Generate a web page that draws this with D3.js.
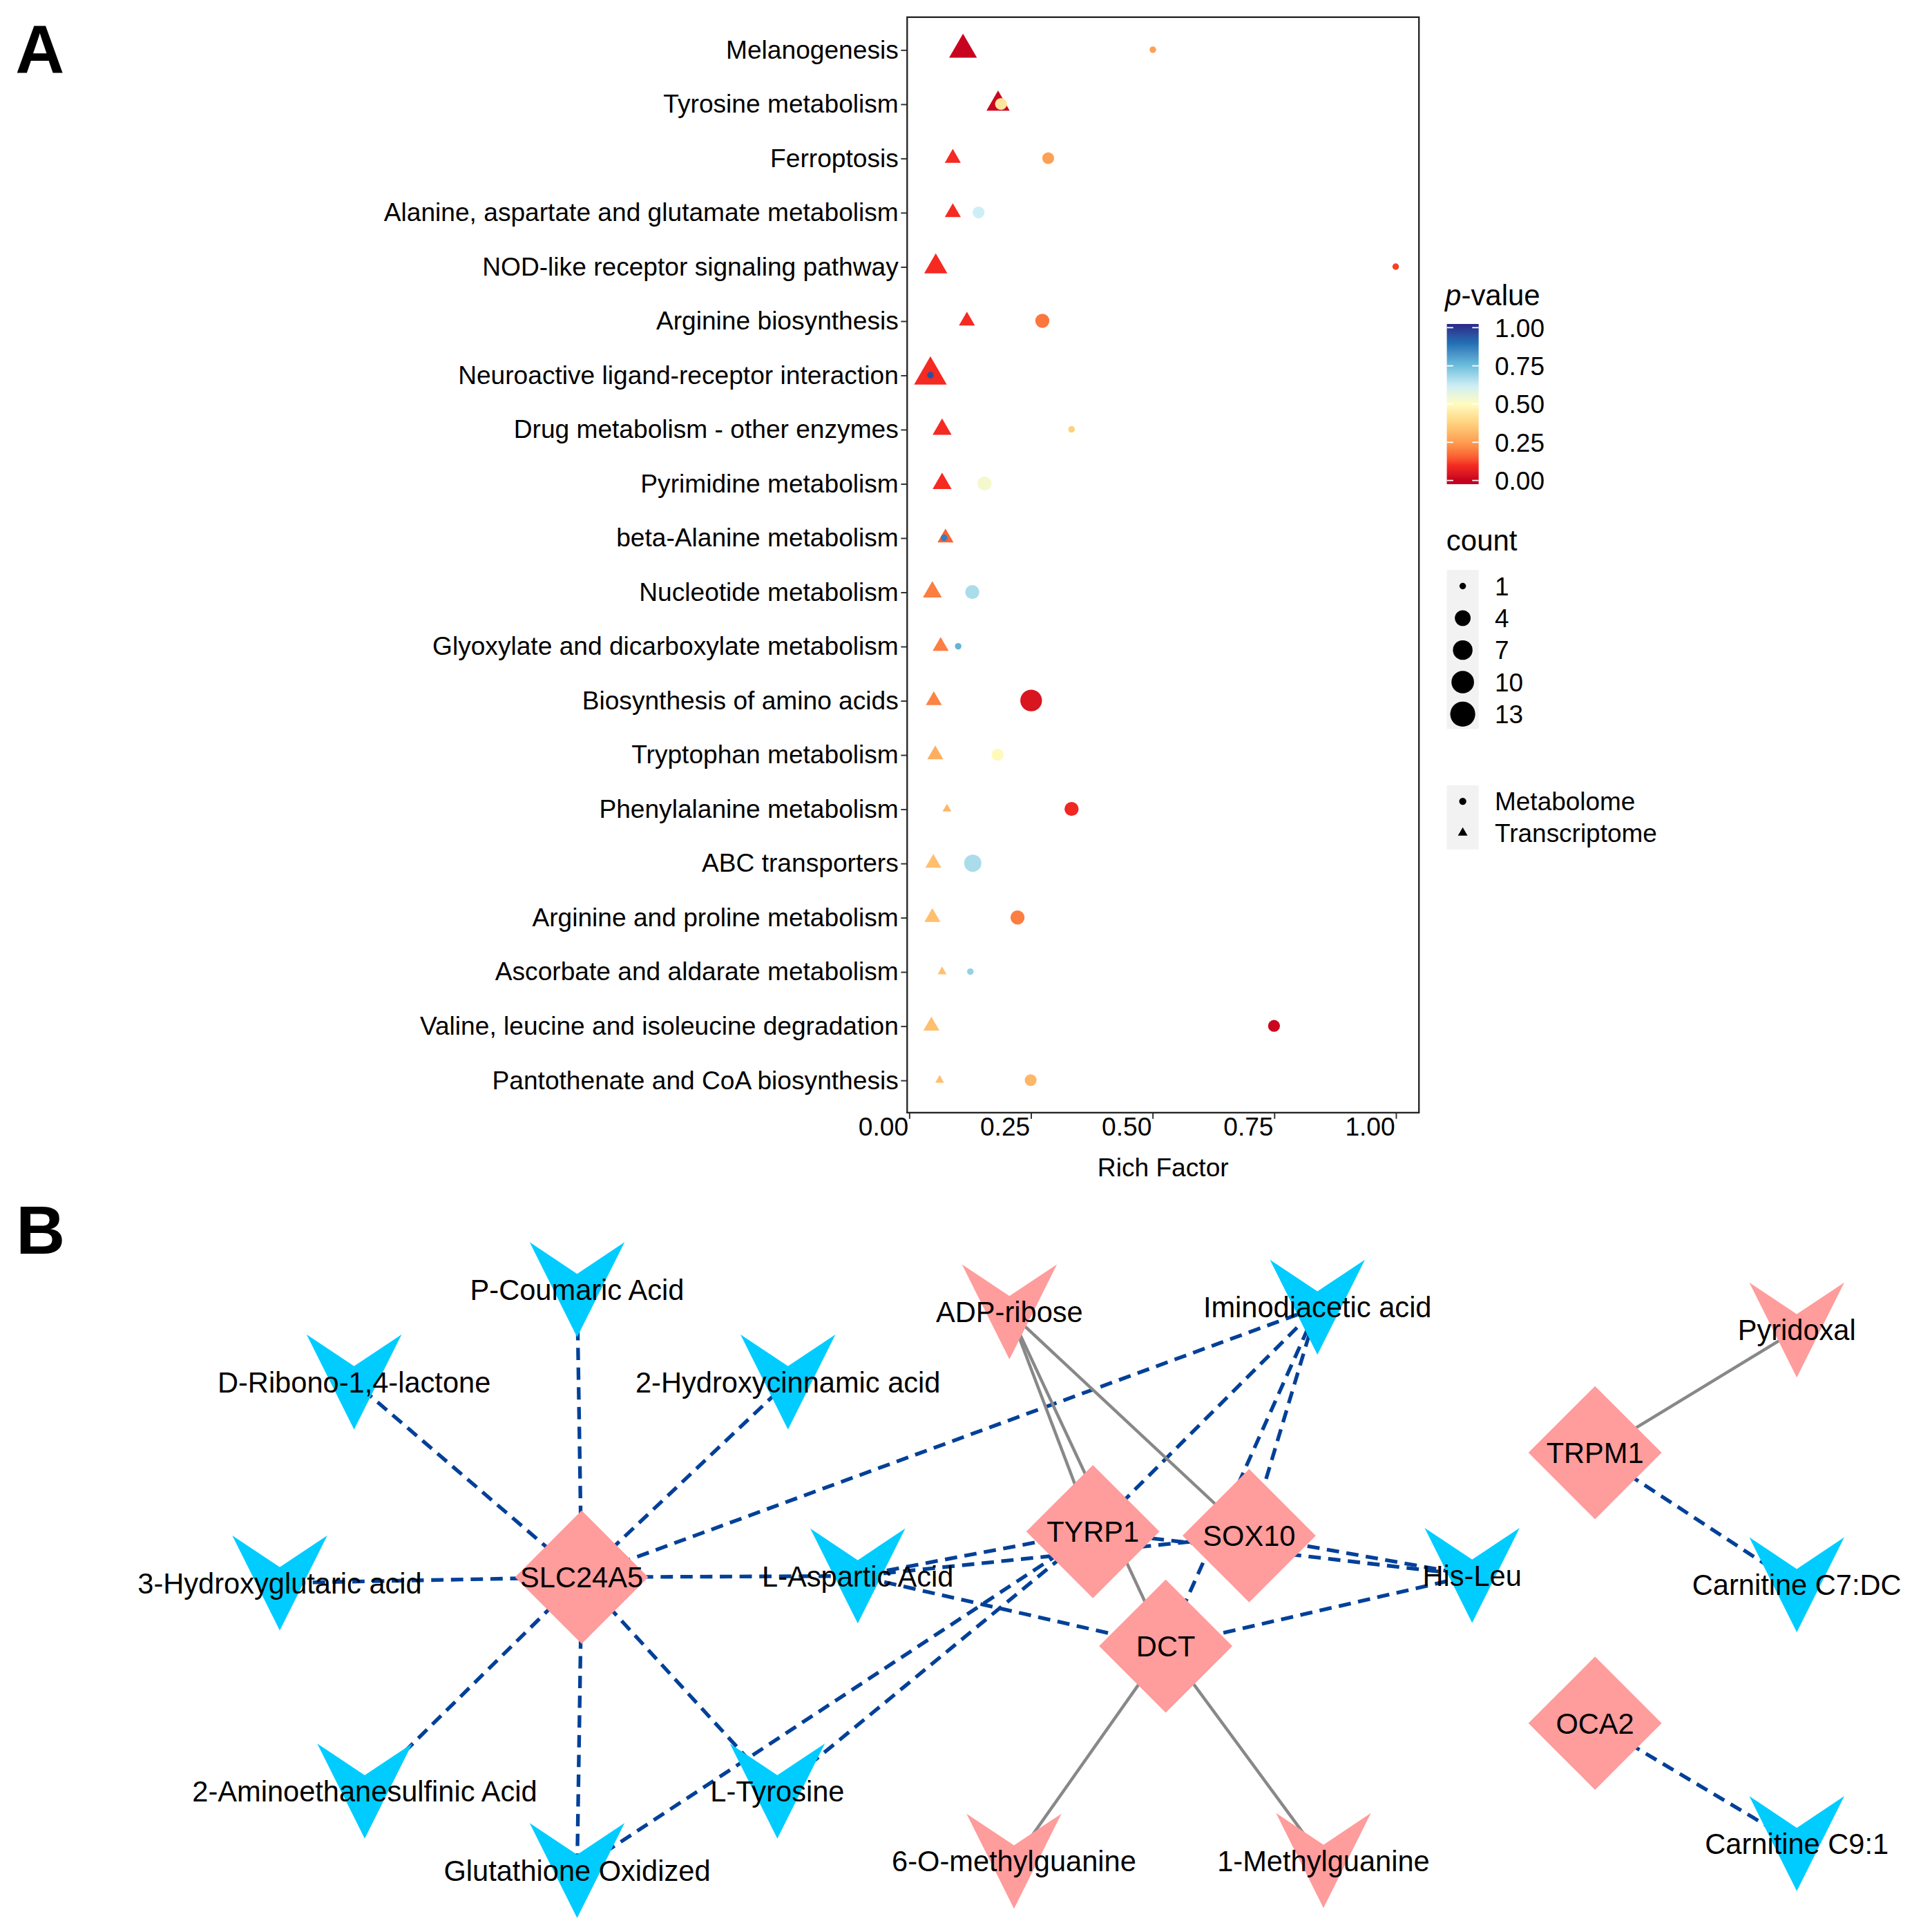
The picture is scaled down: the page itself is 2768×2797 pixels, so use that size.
<!DOCTYPE html>
<html>
<head>
<meta charset="utf-8">
<script src="https://cdn.jsdelivr.net/npm/d3@7"></script>
<style>
  body { margin: 0; background: #fff; }
  svg { display: block; }
</style>
</head>
<body>
<svg id="fig"></svg>
<script>
// ---- panel A data ----
const pathways = [
  'Melanogenesis', 'Tyrosine metabolism', 'Ferroptosis',
  'Alanine, aspartate and glutamate metabolism', 'NOD-like receptor signaling pathway',
  'Arginine biosynthesis', 'Neuroactive ligand-receptor interaction',
  'Drug metabolism - other enzymes', 'Pyrimidine metabolism', 'beta-Alanine metabolism',
  'Nucleotide metabolism', 'Glyoxylate and dicarboxylate metabolism',
  'Biosynthesis of amino acids', 'Tryptophan metabolism', 'Phenylalanine metabolism',
  'ABC transporters', 'Arginine and proline metabolism', 'Ascorbate and aldarate metabolism',
  'Valine, leucine and isoleucine degradation', 'Pantothenate and CoA biosynthesis'
];
// transcriptome (triangles)
const transRich  = [0.111, 0.183, 0.090, 0.090, 0.055, 0.119, 0.044, 0.068, 0.068, 0.075,
                    0.048, 0.065, 0.051, 0.054, 0.078, 0.050, 0.048, 0.068, 0.046, 0.063];
const transP     = [0.005, 0.01, 0.10, 0.10, 0.10, 0.10, 0.10, 0.10, 0.10, 0.16,
                    0.20, 0.20, 0.21, 0.29, 0.31, 0.33, 0.33, 0.33, 0.33, 0.33];
const transCount = [8, 5, 2, 2, 5, 2, 12, 3, 3, 2, 3, 2, 2, 2, 1, 2, 2, 1, 2, 1];
// metabolome (circles)
const metaRich   = [0.501, 0.189, 0.286, 0.143, 1.000, 0.274, 0.044, 0.334, 0.155, 0.072,
                    0.130, 0.101, 0.251, 0.182, 0.334, 0.131, 0.223, 0.126, 0.750, 0.250];
const metaP      = [0.26, 0.43, 0.26, 0.62, 0.12, 0.19, 0.95, 0.37, 0.53, 0.87,
                    0.67, 0.77, 0.04, 0.49, 0.09, 0.67, 0.20, 0.70, 0.01, 0.31];
const metaCount  = [1, 2, 2, 2, 1, 3, 1, 1, 3, 1, 3, 1, 9, 2, 3, 5, 3, 1, 2, 2];

const xTicks = [0, 0.25, 0.5, 0.75, 1];
const pBreaks = [0, 0.25, 0.5, 0.75, 1];
const countBreaks = [1, 4, 7, 10, 13];
const omicsNames = ['Metabolome', 'Transcriptome'];

// ---- panel B data ----
const nodeNames = [
  'P-Coumaric Acid', 'D-Ribono-1,4-lactone', '2-Hydroxycinnamic acid', '3-Hydroxyglutaric acid',
  'SLC24A5', '2-Aminoethanesulfinic Acid', 'Glutathione Oxidized', 'L-Tyrosine',
  'L-Aspartic Acid', 'ADP-ribose', 'Iminodiacetic acid', 'TYRP1', 'SOX10', 'DCT',
  'His-Leu', '6-O-methylguanine', '1-Methylguanine', 'Pyridoxal', 'TRPM1',
  'Carnitine C7:DC', 'OCA2', 'Carnitine C9:1'
];
const nodeKind = [
  'down', 'down', 'down', 'down', 'gene', 'down', 'down', 'down',
  'down', 'up', 'down', 'gene', 'gene', 'gene',
  'down', 'up', 'up', 'up', 'gene', 'down', 'gene', 'down'
];
// layout coordinates (network layout units 0-100)
const layoutX = [19.6, 4.9, 33.5, 0, 19.9, 5.6, 19.6, 32.8, 38.1, 48.1, 68.4, 53.6, 63.9, 58.4,
                 78.6, 48.4, 68.8, 100, 86.7, 100, 86.7, 100];
const layoutY = [0, 15.8, 15.8, 50.2, 49.2, 85.8, 99.4, 85.8, 49.0, 3.8, 3.0, 41.4, 42.1, 61.0,
                 48.9, 97.8, 97.7, 6.9, 27.9, 50.5, 74.2, 94.8];
const edgeList = [
  ['SLC24A5', 'P-Coumaric Acid', 'neg'], ['SLC24A5', 'D-Ribono-1,4-lactone', 'neg'],
  ['SLC24A5', '2-Hydroxycinnamic acid', 'neg'], ['SLC24A5', '3-Hydroxyglutaric acid', 'neg'],
  ['SLC24A5', '2-Aminoethanesulfinic Acid', 'neg'], ['SLC24A5', 'Glutathione Oxidized', 'neg'],
  ['SLC24A5', 'L-Tyrosine', 'neg'], ['SLC24A5', 'L-Aspartic Acid', 'neg'],
  ['SLC24A5', 'Iminodiacetic acid', 'neg'],
  ['TYRP1', 'Iminodiacetic acid', 'neg'], ['TYRP1', 'L-Aspartic Acid', 'neg'],
  ['TYRP1', 'L-Tyrosine', 'neg'], ['TYRP1', 'Glutathione Oxidized', 'neg'],
  ['TYRP1', 'His-Leu', 'neg'],
  ['SOX10', 'Iminodiacetic acid', 'neg'], ['SOX10', 'L-Aspartic Acid', 'neg'],
  ['SOX10', 'His-Leu', 'neg'],
  ['DCT', 'Iminodiacetic acid', 'neg'], ['DCT', 'L-Aspartic Acid', 'neg'],
  ['DCT', 'His-Leu', 'neg'],
  ['TRPM1', 'Carnitine C7:DC', 'neg'], ['OCA2', 'Carnitine C9:1', 'neg'],
  ['ADP-ribose', 'TYRP1', 'pos'], ['ADP-ribose', 'DCT', 'pos'], ['ADP-ribose', 'SOX10', 'pos'],
  ['DCT', '6-O-methylguanine', 'pos'], ['DCT', '1-Methylguanine', 'pos'],
  ['TRPM1', 'Pyridoxal', 'pos']
];

// ---- drawing ----
const W = 1550, H = 1566.2;
const FONT = "'Liberation Sans', Arial, Helvetica, sans-serif";
const svg = d3.select('#fig')
  .attr('width', 2768).attr('height', 2797)
  .attr('viewBox', `0 0 ${W} ${H}`)
  .style('font-family', FONT);

svg.append('rect').attr('width', W).attr('height', H).attr('fill', '#fff');

// panel letters
svg.append('text').attr('x', 12.5).attr('y', 58.8).text('A')
  .attr('font-size', 55).attr('font-weight', 'bold');
svg.append('text').attr('x', 13).attr('y', 1016.3).text('B')
  .attr('font-size', 55).attr('font-weight', 'bold');

// ---------- panel A ----------
const panel = { left: 735.4, right: 1150.3, top: 13.9, bottom: 902 };
const [lo, hi] = d3.extent(transRich.concat(metaRich));
const pad = (hi - lo) * 0.05;
const x = d3.scaleLinear().domain([lo - pad, hi + pad]).range([panel.left, panel.right]);
const y = d3.scalePoint().domain(pathways).range([panel.top, panel.bottom]).padding(0.6);

const pStops  = [0, 0.1, 0.25, 0.38, 0.5, 0.62, 0.75, 0.9, 1];
const pColors = ['#c6001f', '#f52a22', '#fd9c52', '#fed480', '#fffcc0', '#cdeef4', '#6cbfdd', '#1f6fb4', '#2b3590'];
const color = d3.scaleLinear().domain(pStops).range(pColors).interpolate(d3.interpolateLab);

const tScale = d3.scaleLinear().domain([1, 13]).range([0, 1]);
const dScale = d3.scaleLinear().domain([0, 1]).range([5.3, 20.3]);
const diam = c => dScale(Math.sqrt(Math.max(0, tScale(c))));
const symArea = c => Math.PI * Math.pow(diam(c) / 2, 2);

const rows = [];
pathways.forEach((p, i) => rows.push({ pathway: p, omics: 'Transcriptome', rich: transRich[i], p: transP[i], count: transCount[i] }));
pathways.forEach((p, i) => rows.push({ pathway: p, omics: 'Metabolome', rich: metaRich[i], p: metaP[i], count: metaCount[i] }));

const gA = svg.append('g');

// axes
const yAxis = gA.append('g').attr('transform', `translate(${panel.left},0)`)
  .call(d3.axisLeft(y).tickSize(5).tickPadding(2));
yAxis.select('.domain').remove();
yAxis.selectAll('text').attr('font-size', 20.8).attr('fill', '#000').style('font-family', FONT);
yAxis.selectAll('line').attr('stroke', '#333').attr('stroke-width', 1.1);

const xAxis = gA.append('g').attr('transform', `translate(0,${panel.bottom})`)
  .call(d3.axisBottom(x).tickValues(xTicks).tickFormat(d3.format('.2f')).tickSize(5));
xAxis.select('.domain').remove();
xAxis.selectAll('text').attr('font-size', 20.8).attr('fill', '#000').style('font-family', FONT)
  .attr('text-anchor', 'end').attr('dx', -1).attr('y', 11.5).attr('dy', '0.35em');
xAxis.selectAll('line').attr('stroke', '#333').attr('stroke-width', 1.1);

gA.append('text').attr('x', (panel.left + panel.right) / 2).attr('y', 953.5)
  .attr('text-anchor', 'middle').attr('font-size', 20.8).text('Rich Factor');

// points
gA.append('g').selectAll('path')
  .data(rows)
  .join('path')
  .attr('transform', d => `translate(${x(d.rich)},${y(d.pathway)})`)
  .attr('d', d => d3.symbol(d.omics === 'Metabolome' ? d3.symbolCircle : d3.symbolTriangle, symArea(d.count))())
  .attr('fill', d => color(d.p));

gA.append('rect')
  .attr('x', panel.left).attr('y', panel.top)
  .attr('width', panel.right - panel.left).attr('height', panel.bottom - panel.top)
  .attr('fill', 'none').attr('stroke', '#222').attr('stroke-width', 1.3);

// legend: p-value colourbar
const lg = svg.append('g');
const legX = 1172.9, keyW = 25.8, labX = 1211.8;
const title = lg.append('text').attr('x', 1171.5).attr('y', 247.5).attr('font-size', 23.5);
title.append('tspan').attr('font-style', 'italic').text('p');
title.append('tspan').text('-value');

const barY = d3.scaleLinear().domain([0, 1]).range([389.5, 265.6]);
const grad = svg.append('defs').append('linearGradient').attr('id', 'pgrad')
  .attr('x1', 0).attr('y1', 1).attr('x2', 0).attr('y2', 0);
d3.range(0, 1.0001, 0.02).forEach(t => {
  grad.append('stop').attr('offset', t).attr('stop-color', color(-0.024 + t * 1.048));
});
lg.append('rect').attr('x', legX).attr('y', barY(1.024)).attr('width', keyW)
  .attr('height', barY(-0.024) - barY(1.024)).attr('fill', 'url(#pgrad)');
pBreaks.forEach(b => {
  lg.append('line').attr('x1', legX).attr('x2', legX + 5.2).attr('y1', barY(b)).attr('y2', barY(b))
    .attr('stroke', '#fff').attr('stroke-width', 1);
  lg.append('line').attr('x1', legX + keyW - 5.2).attr('x2', legX + keyW).attr('y1', barY(b)).attr('y2', barY(b))
    .attr('stroke', '#fff').attr('stroke-width', 1);
  lg.append('text').attr('x', labX).attr('y', barY(b)).attr('dy', '0.36em')
    .attr('font-size', 20.7).text(d3.format('.2f')(b));
});

// legend: count
lg.append('text').attr('x', 1172.5).attr('y', 446.3).attr('font-size', 23.5).text('count');
const countY = d3.scalePoint().domain(countBreaks).range([475.1, 578.9]);
lg.append('rect').attr('x', legX).attr('y', 462).attr('width', keyW).attr('height', 129).attr('fill', '#f2f2f2');
countBreaks.forEach(c => {
  lg.append('path').attr('transform', `translate(${legX + keyW / 2},${countY(c)})`)
    .attr('d', d3.symbol(d3.symbolCircle, symArea(c))()).attr('fill', '#000');
  lg.append('text').attr('x', labX).attr('y', countY(c)).attr('dy', '0.36em')
    .attr('font-size', 20.7).text(c);
});

// legend: omics shape
const shapeY = d3.scalePoint().domain(omicsNames).range([649.6, 675.2]);
lg.append('rect').attr('x', legX).attr('y', 636.6).attr('width', keyW).attr('height', 52).attr('fill', '#f2f2f2');
omicsNames.forEach(o => {
  lg.append('path').attr('transform', `translate(${legX + keyW / 2},${shapeY(o)})`)
    .attr('d', d3.symbol(o === 'Metabolome' ? d3.symbolCircle : d3.symbolTriangle, Math.PI * 2.9 * 2.9)())
    .attr('fill', '#000');
  lg.append('text').attr('x', labX).attr('y', shapeY(o)).attr('dy', '0.36em')
    .attr('font-size', 20.7).text(o);
});

// ---------- panel B ----------
const xB = d3.scaleLinear().domain([0, 100]).range([226.8, 1456.6]);
const yB = d3.scaleLinear().domain([0, 100]).range([1045.5, 1519.2]);
const nodes = nodeNames.map((n, i) => ({ name: n, kind: nodeKind[i], x: xB(layoutX[i]), y: yB(layoutY[i]) }));
const byName = new Map(nodes.map(n => [n.name, n]));
const links = edgeList.map(([s, t, sign]) => ({ source: byName.get(s), target: byName.get(t), sign }));

const gB = svg.append('g');
gB.append('g').selectAll('line')
  .data(links)
  .join('line')
  .attr('x1', d => d.source.x).attr('y1', d => d.source.y)
  .attr('x2', d => d.target.x).attr('y2', d => d.target.y)
  .attr('stroke', d => d.sign === 'neg' ? '#004098' : '#888888')
  .attr('stroke-width', d => d.sign === 'neg' ? 3 : 2.5)
  .attr('stroke-dasharray', d => d.sign === 'neg' ? '10,6' : null);

const vee = s => `M${-s},${-s}L0,${-s / 3}L${s},${-s}L0,${s}Z`;
const diamond = s => `M${-s},0L0,${-s}L${s},0L0,${s}Z`;

gB.append('g').selectAll('path')
  .data(nodes)
  .join('path')
  .attr('transform', d => `translate(${d.x},${d.y})`)
  .attr('d', d => d.kind === 'gene' ? diamond(54) : vee(38.5))
  .attr('fill', d => d.kind === 'down' ? '#00ccff' : '#ff9c9c');

gB.append('g').selectAll('text')
  .data(nodes)
  .join('text')
  .attr('x', d => d.x).attr('y', d => d.y).attr('dy', '0.36em')
  .attr('text-anchor', 'middle').attr('font-size', 23.3).attr('fill', '#000')
  .text(d => d.name);
</script>
</body>
</html>
